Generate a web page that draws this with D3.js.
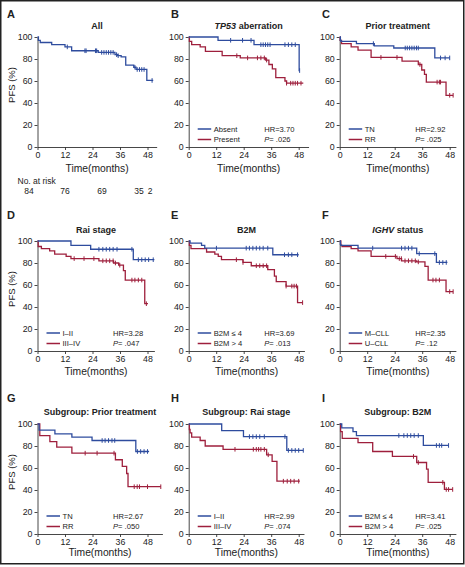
<!DOCTYPE html>
<html><head><meta charset="utf-8">
<script src="https://cdn.jsdelivr.net/npm/d3@7"></script>
<style>
body{margin:0;background:#fff}
text{font-family:"Liberation Sans Narrow","Arial Narrow","Liberation Sans",Arial,sans-serif;fill:#222}
.bold{font-family:"Liberation Sans",Arial,sans-serif;font-weight:bold}
</style>
</head><body>
<svg id="c" width="465" height="567"></svg>
<script>
// ---------- data ----------
const monthTicks = [0, 12, 24, 36, 48];
const pfsTicks = [0, 20, 40, 60, 80, 100];
const panelLetters = ["A","B","C","D","E","F","G","H","I"];
const panelTitles = ["All","TP53 aberration","Prior treatment","Rai stage","B2M","IGHV status",
  "Subgroup: Prior treatment","Subgroup: Rai stage","Subgroup: B2M"];
const blueLabels = [null,"Absent","TN","I–II","B2M ≤ 4","M–CLL","TN","I–II","B2M ≤ 4"];
const redLabels  = [null,"Present","RR","III–IV","B2M > 4","U–CLL","RR","III–IV","B2M > 4"];
const hrValues = [null,"3.70","2.92","3.28","3.69","2.35","2.67","2.99","3.41"];
const pValues  = [null,".026",".025",".047",".013",".12",".050",".074",".025"];
const riskTimesLabel = "No. at risk";
const riskCounts = [84, 76, 69, 35, 2];

// step curves: [month, PFS %]
const allSteps = [[0,100],[0.4,97],[1.2,95],[6.2,93],[12,91],[14.9,87.5],[26.5,86],[33.8,84],[35,83],[36.5,82],[38.5,74.5],[42,72.5],[43,70.5],[47.7,60.5],[50.5,60.5]];
const allCensor = [13,20.7,21.2,25.3,25.8,28,29,30,31,32,33,34.5,35.2,42.5,43.5,44.5,45.5,46.5,50];

const tp53AbsentSteps = [[0,100],[12.8,97],[28.5,93],[48.2,69.5],[48.4,69.5]];
const tp53AbsentCensor = [18.3,23.5,27.2,31.5,32.5,33.5,34.5,35.5,42,43.5,45,46.5,48.4];
const tp53PresentSteps = [[0,100],[0.3,96],[1.3,93],[5,91],[7.3,87],[14.6,83],[22.5,81],[33.6,79],[35,75],[36.5,71],[38,63],[42,60],[42.7,58],[50,58]];
const tp53PresentCensor = [21,25.7,30,31.5,33,34,42.7,44.5,45.5,46.5,47.5,49];

const priorTNSteps = [[0,100],[0.3,97],[0.6,96],[7.3,94],[15.1,92],[23.6,90],[41.5,81],[48,81]];
const priorTNCensor = [14.7,28.6,29.5,30.5,31.5,32.5,33.5,34.3,44,46,48];
const priorRRSteps = [[0,100],[0.2,97],[0.8,94],[5,91],[8,88],[13.7,81.5],[27.2,78],[34.3,75],[35.8,70],[37,66],[37.8,59],[46.4,47],[49.5,47]];
const priorRRCensor = [18,25,35,42.5,43.5,44,48,49.5];

const raiLowSteps = [[0,100],[14.6,96],[23.2,92.5],[41.8,83],[51,83]];
const raiLowCensor = [26.8,28.5,30,31.5,33,34.7,41.2,44,45.5,47,48.5,50.5];
const raiHighSteps = [[0,100],[0.3,95],[1.7,93],[5.3,91],[7.5,88],[12.5,86],[14.6,84],[26.8,82],[33.2,80],[35.4,78],[37.5,73],[38.3,64.5],[46.8,43],[48.2,43]];
const raiHighCensor = [16,20.3,24.6,28.5,30,31.5,33,34,35.9,41.2,42.5,44,45.5,47.5];

const b2mLowSteps = [[0,100],[0.6,98],[5.6,96],[7,93.5],[36.7,87.5],[48,87.5]];
const b2mLowCensor = [12.1,25.1,26.5,28,29.5,31,32.5,34.5,41.8,43.5,45,47.5];
const b2mHighSteps = [[0,100],[0.3,96],[1,93],[7.8,90],[11.4,88],[12.9,86],[14.3,83],[23.7,80.5],[27.3,77.5],[34.5,74],[37.4,68],[38.2,63],[42.5,59],[47.5,44],[49.7,44]];
const b2mHighCensor = [20.8,23.7,29.5,31,32.5,34,42.5,45,46,47,49.7];

const ighvMSteps = [[0,100],[0.3,97],[0.5,96],[8,93.5],[33.6,88.5],[42.2,80.5],[47,80.5]];
const ighvMCensor = [14.4,27,28.5,30,31.5,34.7,41.5,43.5,45,46.5];
const ighvUSteps = [[0,100],[0.5,96],[1,95],[5,93],[8,91],[13.7,86],[25,84],[27,82],[33.6,81],[37.2,77],[38.6,64.5],[46.4,54],[49.5,54]];
const ighvUCensor = [20.1,24.3,26,26.9,28.5,30,31.5,33,34.3,40.7,42,43.5,48,49.5];

const subPriorTNSteps = [[0,100],[0.7,94.5],[7.6,91],[15,88],[23.8,85],[42.9,75],[48.7,75]];
const subPriorTNCensor = [28.2,29.5,31,32.5,33.7,43.6,45,46.5,48];
const subPriorRRSteps = [[0,100],[1,89.5],[5.4,84],[8.4,79],[15,73.5],[34,67.5],[37,61.5],[38.9,55],[39.5,43],[53.8,43]];
const subPriorRRCensor = [20.8,26,33.4,42.2,43.5,44.5,48,53.8];

const subRaiLowSteps = [[0,100],[14.4,94],[23.9,88.5],[42.8,76],[50,76]];
const subRaiLowCensor = [26.5,28,29.5,31,33,42,43.5,45,46.5,48,50];
const subRaiHighSteps = [[0,100],[0.3,95],[0.6,92],[1.3,88],[5,85],[7.2,80],[15,77],[34,72],[36.4,66],[38.5,48],[48.5,48]];
const subRaiHighCensor = [20.2,28.2,29.5,30.5,31.5,33,34.7,41.3,43,44.5,46,48];

const subB2mLowSteps = [[0,100],[0.9,96.5],[5.8,93],[7.3,89.5],[36.5,80.5],[47.5,80.5]];
const subB2mLowCensor = [25.8,28,29.5,31,32.5,34.3,42.2,43.5,44.5,47.5];
const subB2mHighSteps = [[0,100],[0.4,93],[1.1,87],[8,83],[14.4,75],[23,70.5],[33.6,65],[37.9,59],[38.6,47],[45.7,40.5],[49.3,40.5]];
const subB2mHighCensor = [32.2,34.3,45,46.5,47.5,49.3];

const blueSeries = [[allSteps,allCensor],[tp53AbsentSteps,tp53AbsentCensor],[priorTNSteps,priorTNCensor],
  [raiLowSteps,raiLowCensor],[b2mLowSteps,b2mLowCensor],[ighvMSteps,ighvMCensor],
  [subPriorTNSteps,subPriorTNCensor],[subRaiLowSteps,subRaiLowCensor],[subB2mLowSteps,subB2mLowCensor]];
const redSeries = [null,[tp53PresentSteps,tp53PresentCensor],[priorRRSteps,priorRRCensor],
  [raiHighSteps,raiHighCensor],[b2mHighSteps,b2mHighCensor],[ighvUSteps,ighvUCensor],
  [subPriorRRSteps,subPriorRRCensor],[subRaiHighSteps,subRaiHighCensor],[subB2mHighSteps,subB2mHighCensor]];

// ---------- layout ----------
const colX0 = [37.5, 188.7, 339.7];
const rowY0 = [147, 351, 534];
const axisEnd = [52, 52.3, 50.7, 51, 50.5, 50.7, 54.5, 50.3, 50.7];
const xLabelY = [172, 375, 556];
const titleY = [29, 232.5, 415];
const letterY = [18, 219, 402];
const letterX = [7, 171, 322];
const plotW = 110, plotH = 110;
const BLUE = "#2e4c9e", RED = "#9e1f3c", AX = "#333";

const svg = d3.select("#c");
svg.append("rect").attr("x",0.75).attr("y",0.75).attr("width",463).attr("height",563)
  .attr("fill","none").attr("stroke","#222").attr("stroke-width",1.5);

function valueAt(steps, t){
  let v = steps[0][1];
  for (const s of steps) if (s[0] <= t) v = s[1];
  return v;
}

panelLetters.forEach((letter, i) => {
  const col = i % 3, row = Math.floor(i / 3);
  const x0 = colX0[col], y0 = rowY0[row];
  const end = axisEnd[i];
  const x = d3.scaleLinear().domain([0, end]).range([x0, x0 + end * plotW / 48]);
  const y = d3.scaleLinear().domain([0, 100]).range([y0, y0 - plotH]);
  const g = svg.append("g");

  const xa = g.append("g").attr("transform", `translate(0,${y0})`)
    .call(d3.axisBottom(x).tickValues(monthTicks).tickSize(3).tickSizeOuter(0).tickPadding(2));
  const ya = g.append("g").attr("transform", `translate(${x0},0)`)
    .call(d3.axisLeft(y).tickValues(pfsTicks).tickSize(3).tickSizeOuter(0).tickPadding(2));
  [xa, ya].forEach(a => {
    a.selectAll("path,line").attr("stroke", AX).attr("stroke-width", 0.9);
    a.selectAll("text").attr("font-size", 8.8).attr("fill", "#222")
      .style("font-family", '"Liberation Sans Narrow","Arial Narrow","Liberation Sans",sans-serif');
  });

  // letter
  g.append("text").attr("class","bold").attr("x", letterX[col]).attr("y", letterY[row])
    .attr("font-size", 11).text(letter);
  // title
  const tcx = (x0 + x(end)) / 2;
  const t = g.append("text").attr("class","bold").attr("x", tcx).attr("y", titleY[row])
    .attr("text-anchor","middle").attr("font-size", 9);
  const title = panelTitles[i];
  if (title.startsWith("TP53")) { t.append("tspan").attr("font-style","italic").text("TP53"); t.append("tspan").text(title.slice(4)); }
  else if (title.startsWith("IGHV")) { t.append("tspan").attr("font-style","italic").text("IGHV"); t.append("tspan").text(title.slice(4)); }
  else t.text(title);

  // x label
  g.append("text").attr("x", tcx).attr("y", xLabelY[row]).attr("text-anchor","middle")
    .attr("font-size", 10.3).text("Time(months)");
  if (col === 0) {
    g.append("text").attr("transform", `translate(15,${y0 - plotH/2 - 7}) rotate(-90)`)
      .attr("text-anchor","middle").attr("font-size", 9.5).text("PFS (%)");
  }

  const line = d3.line().x(d => x(d[0])).y(d => y(d[1])).curve(d3.curveStepAfter);
  const drawSeries = (ser, color) => {
    const [steps, cens] = ser;
    g.append("path").datum(steps).attr("d", line).attr("fill","none")
      .attr("stroke", color).attr("stroke-width", 1.3);
    g.selectAll(null).data(cens).enter().append("line")
      .attr("x1", d => x(d)).attr("x2", d => x(d))
      .attr("y1", d => y(valueAt(steps, d)) - 2.3).attr("y2", d => y(valueAt(steps, d)) + 2.3)
      .attr("stroke", color).attr("stroke-width", 1);
  };
  if (redSeries[i]) drawSeries(redSeries[i], RED);
  drawSeries(blueSeries[i], BLUE);

  // legend
  if (blueLabels[i]) {
    const ly = [y0 - 18, y0 - 7.5];
    [[blueLabels[i], BLUE], [redLabels[i], RED]].forEach(([lab, c], k) => {
      g.append("line").attr("x1", x0 + 9).attr("x2", x0 + 22.5).attr("y1", ly[k]).attr("y2", ly[k])
        .attr("stroke", c).attr("stroke-width", 1.5);
      g.append("text").attr("x", x0 + 25).attr("y", ly[k] + 2.7).attr("font-size", 7.6).text(lab);
    });
    g.append("text").attr("x", x0 + 75.5).attr("y", ly[0] + 2.7).attr("font-size", 7.6).text("HR=" + hrValues[i]);
    const p = g.append("text").attr("x", x0 + 75.5).attr("y", ly[1] + 2.7).attr("font-size", 7.6);
    p.append("tspan").attr("font-style","italic").text("P");
    p.append("tspan").text("= " + pValues[i]);
  }
});

// number at risk
svg.append("text").attr("x", 17.5).attr("y", 184).attr("font-size", 8.5).text(riskTimesLabel);
const riskX = [29, 65, 102, 139, 150];
riskCounts.forEach((n, k) => {
  svg.append("text").attr("x", riskX[k]).attr("y", 194).attr("text-anchor","middle")
    .attr("font-size", 8.5).text(n);
});
</script>
</body></html>
